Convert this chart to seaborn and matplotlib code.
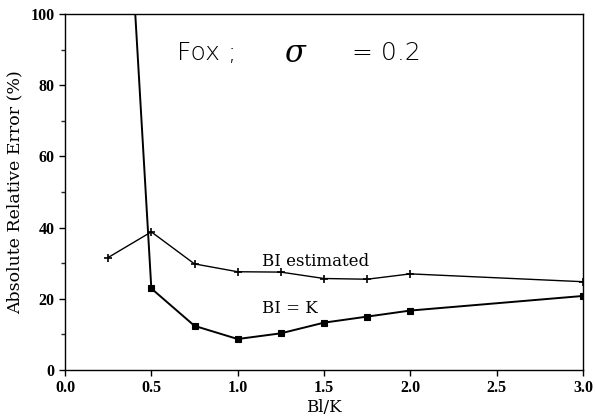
import matplotlib
matplotlib.use("Agg")
import matplotlib.pyplot as plt
from matplotlib.ticker import MultipleLocator
import numpy as np
import pandas as pd
import seaborn as sns

# Absolute relative error (%) versus Bl/K ratio
bl_k = [0.25, 0.5, 0.75, 1.0, 1.25, 1.5, 1.75, 2.0, 3.0]
err_bl_estimated = [31.6, 38.8, 29.8, 27.6, 27.5, 25.7, 25.5, 27.0, 24.8]
err_bl_equal_k = [230.0, 22.9, 12.4, 8.7, 10.3, 13.3, 15.0, 16.7, 20.8]

x_ticks = [0.0, 0.5, 1.0, 1.5, 2.0, 2.5, 3.0]
y_ticks = [0, 20, 40, 60, 80, 100]

sns.set_style("ticks")
plt.rcParams["font.family"] = ["DejaVu Serif"]
plt.rcParams["text.color"] = "black"
plt.rcParams["axes.labelcolor"] = "black"

df_est = pd.DataFrame({"x": bl_k, "y": err_bl_estimated})
df_eq = pd.DataFrame({"x": bl_k, "y": err_bl_equal_k})

fig = plt.figure(figsize=(5.96, 4.18), dpi=100)
ax = fig.add_axes([65 / 596, 1 - 370 / 418, (583 - 65) / 596, (370 - 14) / 418])

sns.lineplot(data=df_est, x="x", y="y", ax=ax, color="black", linewidth=1.0,
             marker="+", markersize=6, markeredgewidth=1.2,
             markeredgecolor="black", sort=False)
sns.lineplot(data=df_eq, x="x", y="y", ax=ax, color="black", linewidth=1.4,
             marker="s", markersize=4.5, markeredgewidth=0.8,
             markeredgecolor="black", markerfacecolor="black", sort=False)

ax.set_xlim(0, 3.0)
ax.set_ylim(0, 100)
ax.set_xticks(x_ticks)
ax.set_xticklabels([f"{v:.1f}" for v in x_ticks])
ax.set_yticks(y_ticks)
ax.yaxis.set_minor_locator(MultipleLocator(10))
ax.tick_params(axis="both", which="major", direction="out", length=4, width=1,
               labelsize=11.5, colors="black")
ax.tick_params(axis="y", which="minor", direction="out", length=3, width=1)
for lab in ax.get_xticklabels() + ax.get_yticklabels():
    lab.set_family(["Liberation Serif"])
    lab.set_fontweight("bold")

for s in ax.spines.values():
    s.set_visible(True)
    s.set_color("black")
    s.set_linewidth(1.0)

ax.set_xlabel("Bl/K", fontsize=12, labelpad=2)
ax.set_ylabel("Absolute Relative Error (%)", fontsize=12.5, labelpad=5)

# Panel title inside the axes
sans = ["DejaVu Sans"]
ax.text(0.65, 89, "Fox ;", fontsize=18, family=sans, fontweight="light",
        va="center", ha="left")
ax.text(1.27, 89, "σ", fontsize=22, family=["DejaVu Serif"], style="italic",
        va="center", ha="left")
ax.text(1.66, 89, "= 0.2", fontsize=18, family=sans, fontweight="light",
        va="center", ha="left")

# Curve labels
ax.text(1.14, 30.5, "BI estimated", fontsize=12, va="center", ha="left")
ax.text(1.14, 17.3, "BI = K", fontsize=12, va="center", ha="left")

fig.savefig("out.png", dpi=100)
